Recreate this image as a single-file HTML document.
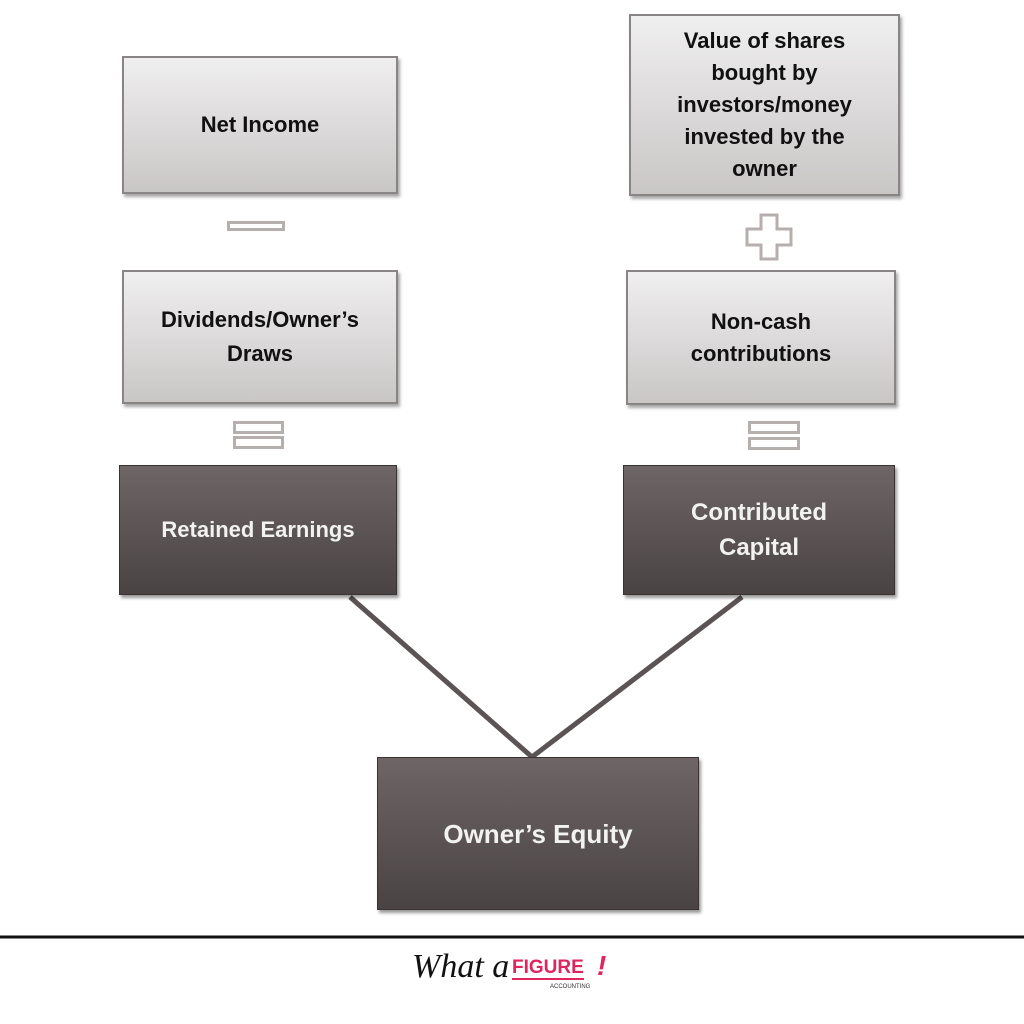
<!DOCTYPE html>
<html><head><style>
body{margin:0;width:1024px;height:1024px;background:#fff;position:relative;overflow:hidden;font-family:"Liberation Sans",sans-serif;}
.b{position:absolute;box-sizing:border-box;display:flex;align-items:center;justify-content:center;text-align:center;font-weight:bold;font-size:22px;line-height:32px;}
.l{background:linear-gradient(#f0efef,#c9c6c6);border:2px solid #8a8585;color:#111;box-shadow:2px 3px 3px rgba(0,0,0,0.35);}
.d{background:linear-gradient(#6e6666,#4a4343);border:1px solid #3a3333;color:#f2f2f2;box-shadow:2px 3px 3px rgba(0,0,0,0.4);}
.s{position:absolute;box-sizing:border-box;border:3px solid #b5afad;background:#fff;}
</style></head><body>
<svg style="position:absolute;left:0;top:0" width="1024" height="1024">
<line x1="350" y1="597" x2="532" y2="757" stroke="#5a5454" stroke-width="5"/>
<line x1="742" y1="597" x2="532" y2="757" stroke="#5a5454" stroke-width="5"/>
<path d="M761 215 h16 v14 h14 v16 h-14 v14 h-16 v-14 h-14 v-16 h14 z" fill="#fff" stroke="#b5afad" stroke-width="3"/>
<line x1="0" y1="937" x2="1024" y2="937" stroke="#111" stroke-width="3"/>
</svg>
<div class="b l" style="left:122px;top:56px;width:276px;height:138px">Net Income</div>
<div class="b l" style="left:629px;top:14px;width:271px;height:182px">Value of shares<br>bought by<br>investors/money<br>invested by the<br>owner</div>
<div class="b l" style="left:122px;top:270px;width:276px;height:134px;line-height:34px">Dividends/Owner’s<br>Draws</div>
<div class="b l" style="left:626px;top:270px;width:270px;height:135px">Non-cash<br>contributions</div>
<div class="b d" style="left:119px;top:465px;width:278px;height:130px">Retained Earnings</div>
<div class="b d" style="left:623px;top:465px;width:272px;height:130px;font-size:24px;line-height:35px">Contributed<br>Capital</div>
<div class="b d" style="left:377px;top:757px;width:322px;height:153px;font-size:26px">Owner’s Equity</div>
<div class="s" style="left:227px;top:221px;width:58px;height:10px"></div>
<div class="s" style="left:233px;top:421px;width:51px;height:13px"></div>
<div class="s" style="left:233px;top:436px;width:51px;height:13px"></div>
<div class="s" style="left:748px;top:421px;width:52px;height:13px"></div>
<div class="s" style="left:748px;top:437px;width:52px;height:13px"></div>
<div style="position:absolute;left:412px;top:948px;font-family:'Liberation Serif',serif;font-style:italic;font-size:34px;color:#111">What a</div>
<div style="position:absolute;left:512px;top:958px;font-weight:bold;font-size:19px;color:#e0245e;border-bottom:2px solid #e0245e;line-height:20px">FIGURE</div>
<div style="position:absolute;left:597px;top:950px;font-weight:bold;font-size:28px;color:#e0245e;font-style:italic">!</div>
<div style="position:absolute;left:550px;top:984px;font-size:6px;color:#333">ACCOUNTING</div>
</body></html>
